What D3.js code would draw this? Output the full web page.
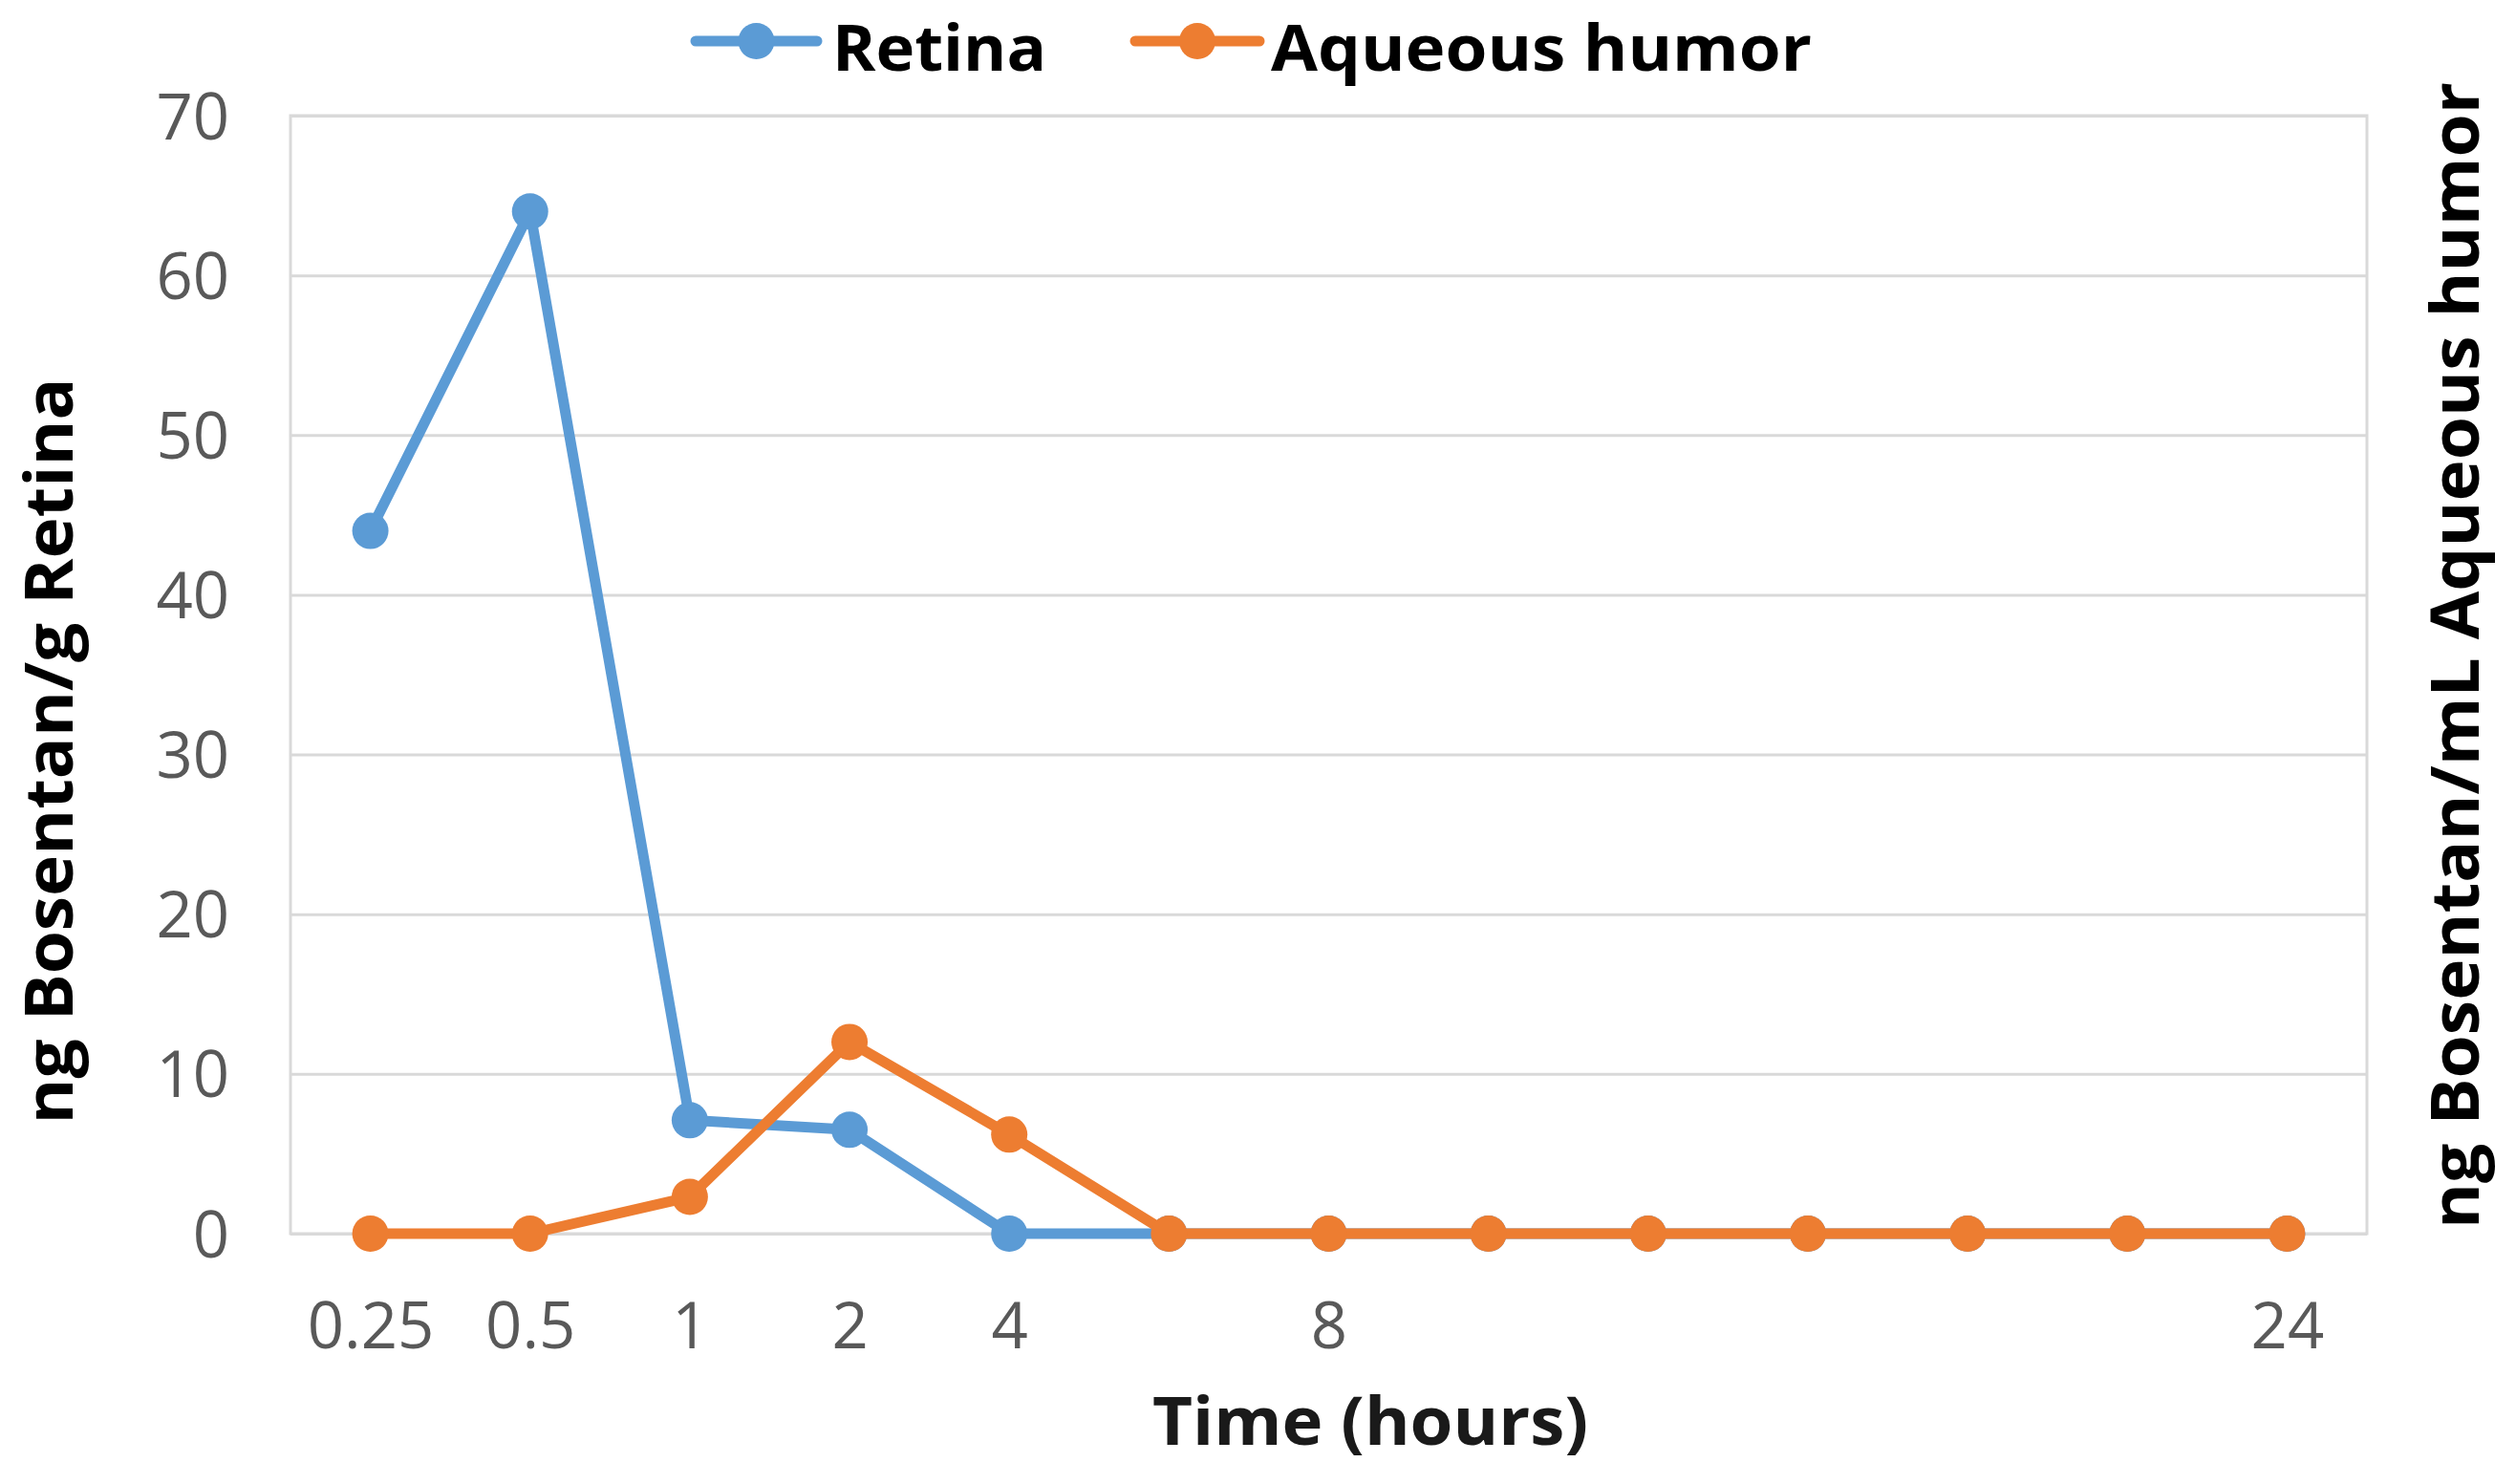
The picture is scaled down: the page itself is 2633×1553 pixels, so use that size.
<!DOCTYPE html>
<html>
<head>
<meta charset="utf-8">
<script src="https://cdn.jsdelivr.net/npm/d3@7"></script>
<style>
  html, body { margin: 0; padding: 0; background: #ffffff; }
  svg { display: block; }
</style>
</head>
<body>
<svg id="chart" width="2633" height="1553"></svg>
<script>
// ---- data ----
const categories = ["0.25", "0.5", "1", "2", "4", "", "8", "", "", "", "", "", "24"];
const retina = [44, 64, 7.1, 6.5, 0, 0, 0, 0, 0, 0, 0, 0, 0];
const aqueous = [0, 0, 2.3, 12, 6.2, 0, 0, 0, 0, 0, 0, 0, 0];
const yTicks = [0, 10, 20, 30, 40, 50, 60, 70];
const seriesNames = ["Retina", "Aqueous humor"];
const seriesColors = ["#5b9bd5", "#ed7d31"];
const xTitle = "Time (hours)";
const yTitleLeft = "ng Bosentan/g Retina";
const yTitleRight = "ng Bosentan/mL Aqueous humor";

// ---- layout ----
const W = 2633, H = 1553;
const plot = { left: 304, right: 2477, top: 121, bottom: 1291 };
const svg = d3.select("#chart");

const x = d3.scalePoint()
  .domain(d3.range(categories.length))
  .range([plot.left, plot.right])
  .padding(0.5);
const y = d3.scaleLinear().domain([0, 70]).range([plot.bottom, plot.top]);

const gridColor = "#d9d9d9";
const tickColor = "#595959";
const tickFont = "'Open Sans', sans-serif";

// gridlines
const grid = svg.append("g")
  .attr("transform", `translate(${plot.left},0)`)
  .call(d3.axisLeft(y).tickValues(yTicks).tickSize(-(plot.right - plot.left)).tickFormat(""));
grid.select(".domain").remove();
grid.selectAll(".tick line").attr("stroke", gridColor).attr("stroke-width", 3);

// plot border
svg.append("rect")
  .attr("x", plot.left).attr("y", plot.top)
  .attr("width", plot.right - plot.left).attr("height", plot.bottom - plot.top)
  .attr("fill", "none").attr("stroke", gridColor).attr("stroke-width", 3);

// y axis labels
const yAxis = svg.append("g")
  .attr("transform", `translate(${plot.left},0)`)
  .call(d3.axisLeft(y).tickValues(yTicks).tickSize(0).tickPadding(64));
yAxis.select(".domain").remove();
yAxis.selectAll("text")
  .attr("font-family", tickFont).attr("font-size", 67)
  .attr("fill", tickColor).attr("dy", "0.36em");

// x axis labels
const xAxis = svg.append("g")
  .attr("transform", `translate(0,${plot.bottom})`)
  .call(d3.axisBottom(x).tickSize(0).tickFormat(i => categories[i]));
xAxis.select(".domain").remove();
xAxis.selectAll("text")
  .attr("font-family", tickFont).attr("font-size", 67)
  .attr("fill", tickColor).attr("y", 120).attr("dy", 0);

// series
const series = [retina, aqueous];
const line = d3.line().x((d, i) => x(i)).y(d => y(d));
series.forEach((vals, s) => {
  const g = svg.append("g");
  g.append("path")
    .datum(vals)
    .attr("d", line)
    .attr("fill", "none")
    .attr("stroke", seriesColors[s])
    .attr("stroke-width", 11)
    .attr("stroke-linejoin", "round")
    .attr("stroke-linecap", "round");
  g.selectAll("circle")
    .data(vals)
    .join("circle")
    .attr("cx", (d, i) => x(i))
    .attr("cy", d => y(d))
    .attr("r", 19)
    .attr("fill", seriesColors[s]);
});

// legend
const legendItems = [
  { x1: 728, x2: 855, tx: 871, tl: 224 },
  { x1: 1188, x2: 1318, tx: 1330, tl: 566 }
];
const legendY = 43;
legendItems.forEach((li, s) => {
  svg.append("line")
    .attr("x1", li.x1).attr("x2", li.x2).attr("y1", legendY).attr("y2", legendY)
    .attr("stroke", seriesColors[s]).attr("stroke-width", 11).attr("stroke-linecap", "round");
  svg.append("circle")
    .attr("cx", (li.x1 + li.x2) / 2).attr("cy", legendY).attr("r", 19)
    .attr("fill", seriesColors[s]);
  svg.append("text")
    .attr("x", li.tx).attr("y", 74)
    .attr("font-family", tickFont).attr("font-weight", "bold").attr("font-size", 66)
    .attr("fill", "#000")
    .attr("textLength", li.tl).attr("lengthAdjust", "spacingAndGlyphs")
    .text(seriesNames[s]);
});

// axis titles
svg.append("text")
  .attr("x", 1206).attr("y", 1512)
  .attr("font-family", tickFont).attr("font-weight", "bold").attr("font-size", 70)
  .attr("fill", "#1a1a1a")
  .attr("textLength", 456).attr("lengthAdjust", "spacingAndGlyphs")
  .text(xTitle);

svg.append("text")
  .attr("transform", `translate(76,786) rotate(-90)`)
  .attr("text-anchor", "middle")
  .attr("font-family", tickFont).attr("font-weight", "bold").attr("font-size", 70)
  .attr("fill", "#000")
  .attr("textLength", 781).attr("lengthAdjust", "spacingAndGlyphs")
  .text(yTitleLeft);

svg.append("text")
  .attr("transform", `translate(2594,686) rotate(-90)`)
  .attr("text-anchor", "middle")
  .attr("font-family", tickFont).attr("font-weight", "bold").attr("font-size", 70)
  .attr("fill", "#000")
  .attr("textLength", 1200).attr("lengthAdjust", "spacingAndGlyphs")
  .text(yTitleRight);
</script>
</body>
</html>
